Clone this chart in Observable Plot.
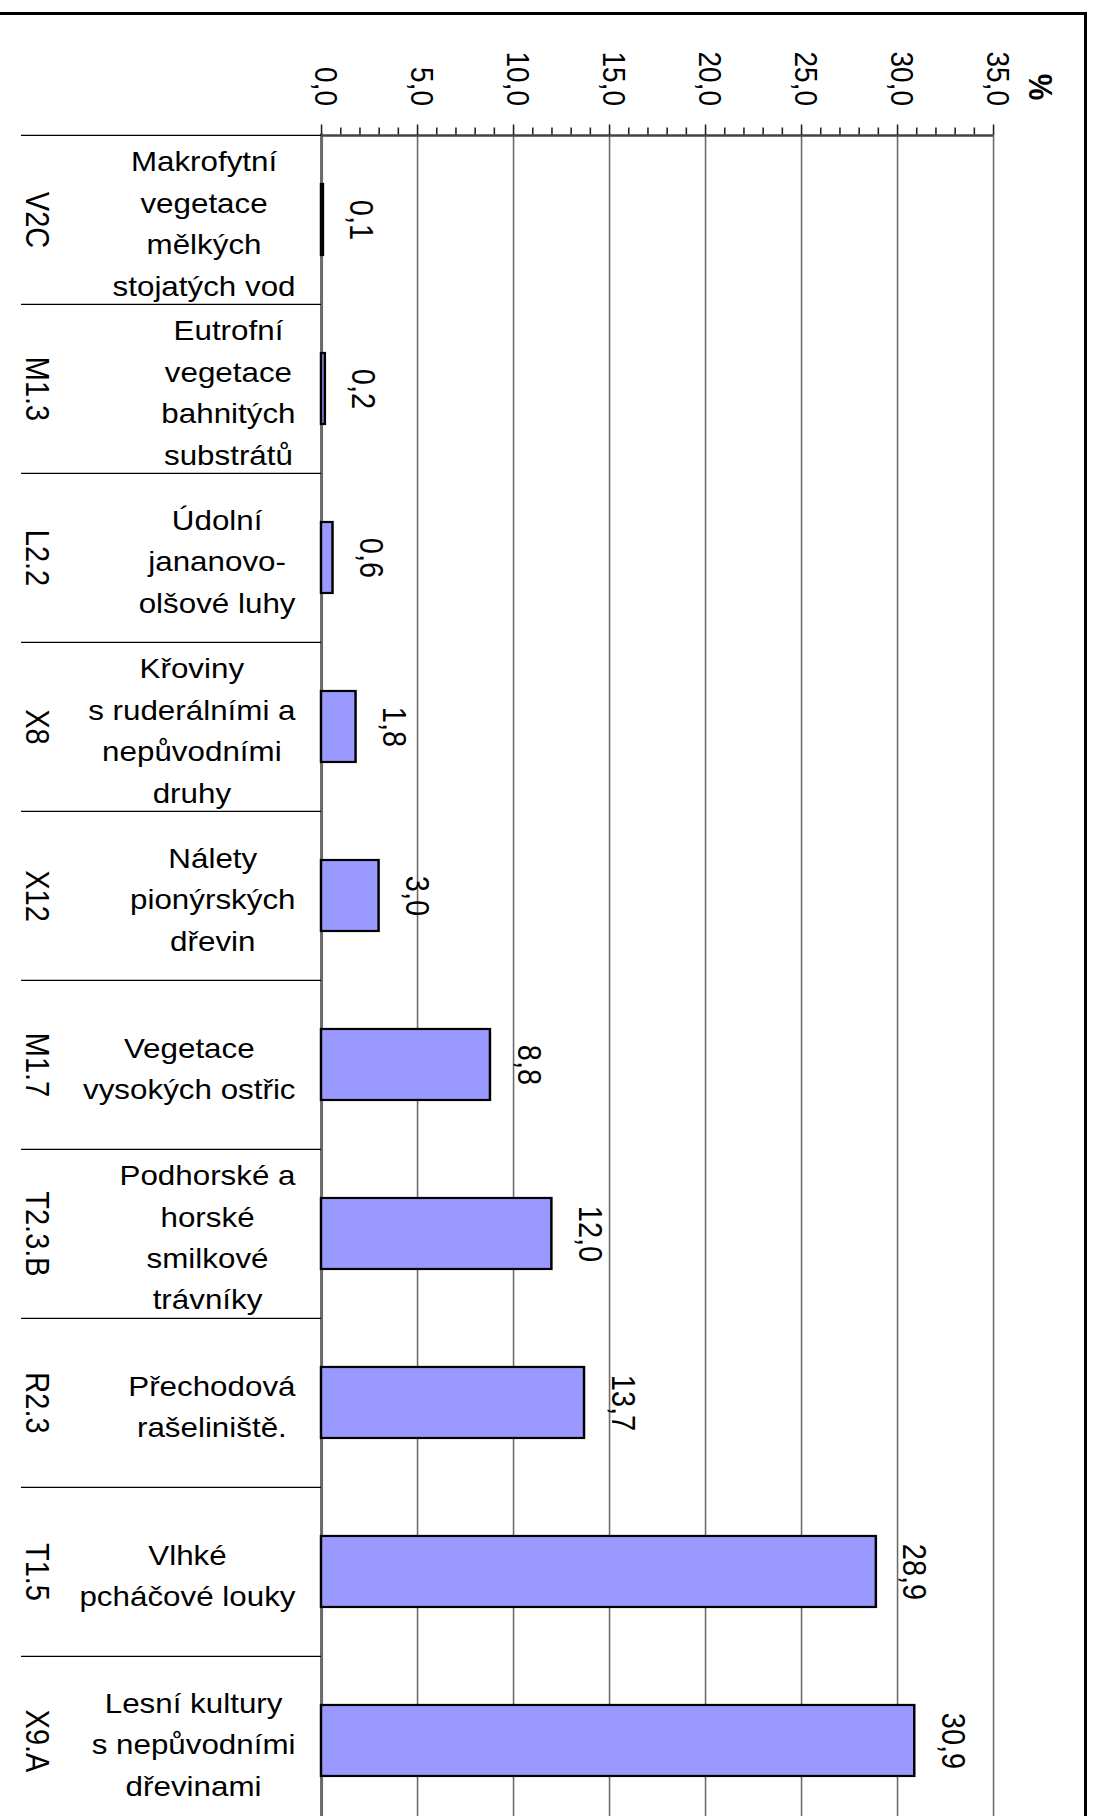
<!DOCTYPE html>
<html>
<head>
<meta charset="utf-8">
<script src="https://cdn.jsdelivr.net/npm/d3@7"></script>
<script src="https://cdn.jsdelivr.net/npm/@observablehq/plot@0.6"></script>
<style>
  html, body { margin: 0; padding: 0; background: #fff; }
  #wrap { position: relative; width: 1097px; height: 1816px; overflow: hidden; background: #fff; }
  #chart { position: absolute; left: 0; top: 0; transform-origin: 0 0; }
  #chart svg { display: block; }
  #border { position: absolute; left: -10px; top: 12px; width: 1097px; height: 2000px;
            border: 3px solid #000; box-sizing: border-box; pointer-events: none; }
</style>
</head>
<body>
<div id="wrap"><div id="chart"></div><div id="border"></div></div>
<script>
// ---- data ----
const codes = ["V2C", "M1.3", "L2.2", "X8", "X12", "M1.7", "T2.3.B", "R2.3", "T1.5", "X9.A"];
const names = [
  "Makrofytní\nvegetace\nmělkých\nstojatých vod",
  "Eutrofní\nvegetace\nbahnitých\nsubstrátů",
  "Údolní\njananovo-\nolšové luhy",
  "Křoviny\ns ruderálními a\nnepůvodními\ndruhy",
  "Nálety\npionýrských\ndřevin",
  "Vegetace\nvysokých ostřic",
  "Podhorské a\nhorské\nsmilkové\ntrávníky",
  "Přechodová\nrašeliniště.",
  "Vlhké\npcháčové louky",
  "Lesní kultury\ns nepůvodními\ndřevinami"
];
const values = [0.1, 0.2, 0.6, 1.8, 3.0, 8.8, 12.0, 13.7, 28.9, 30.9];
const valueLabels = ["0,1", "0,2", "0,6", "1,8", "3,0", "8,8", "12,0", "13,7", "28,9", "30,9"];
const xTicks = [0, 5, 10, 15, 20, 25, 30, 35];
const tickLabels = ["0,0", "5,0", "10,0", "15,0", "20,0", "25,0", "30,0", "35,0"];
const minorTicks = d3.range(0, 36, 1).filter(v => v % 5 !== 0);
const unitLabel = "%";

// ---- layout (the original picture is stretched horizontally by SX) ----
const SX = 1.12;
const W = 1097, H = 1816, WU = W / SX;
const XDOM = [0, 35], XRANGE = [321 / SX, 993 / SX];
const TOP = 133.5, STEP = 169.2;
const FONT = "Liberation Sans, Arial, Helvetica, sans-serif";
const DESC_SIZE = 28, DESC_RIGHT = 295 / SX, SEP_LEFT = 21 / SX;

const xs = d3.scaleLinear().domain(XDOM).range(XRANGE);
const ctx = document.createElement("canvas").getContext("2d");
ctx.font = `${DESC_SIZE}px "Liberation Sans"`;
const blockWidth = s => d3.max(s.split("\n"), l => ctx.measureText(l).width);

const rows = codes.map((c, i) => ({
  code: c, name: names[i], value: values[i], label: valueLabels[i],
  descX: xs.invert(DESC_RIGHT - blockWidth(names[i]) / 2)
}));

const chart = Plot.plot({
  width: WU,
  height: H,
  marginTop: TOP,
  marginBottom: 0,
  marginLeft: XRANGE[0],
  marginRight: WU - XRANGE[1],
  style: { fontFamily: FONT, background: "#fff", color: "#000", overflow: "hidden" },
  x: { domain: XDOM, range: XRANGE },
  y: { type: "band", domain: codes, range: [TOP, TOP + STEP * codes.length], padding: 0, axis: null },
  marks: [
    // vertical gridlines
    Plot.ruleX(xTicks.slice(1), { stroke: "#6a6a6a", strokeWidth: 1.4 }),
    Plot.ruleX([0], { stroke: "#6a6a6a", strokeWidth: 2.7 }),
    // category separators
    Plot.ruleY(codes, { y: d => d, x1: xs.invert(SEP_LEFT), x2: 0, dy: -STEP / 2, stroke: "#000", strokeWidth: 1.3 }),
    // top axis line
    Plot.ruleY([codes[0]], { y: d => d, dy: -STEP / 2, stroke: "#444", strokeWidth: 2.5 }),
    // ticks
    Plot.axisX({ anchor: "top", ticks: xTicks, tickSize: 10, tickFormat: () => "", label: null, stroke: "#222", strokeWidth: 1.4 }),
    Plot.axisX({ anchor: "top", ticks: minorTicks, tickSize: 7, tickFormat: () => "", label: null, stroke: "#222", strokeWidth: 1.4 }),
    // tick labels (rotated)
    Plot.text(xTicks, { x: d => d, text: (d, i) => tickLabels[i], frameAnchor: "top", dy: -28, dx: 3 / SX,
      rotate: 90, textAnchor: "end", lineAnchor: "middle", fontSize: 28, fill: "#000" }),
    Plot.text([unitLabel], { text: d => d, frameAnchor: "top-right", dx: 35 / SX, dy: -47,
      rotate: 90, textAnchor: "middle", lineAnchor: "bottom", fontSize: 30, fontWeight: "bold", fill: "#000" }),
    // bars
    Plot.barX(rows, { x: "value", y: "code", fill: "#9999ff", stroke: "#000", strokeWidth: 2.2,
      insetTop: 49, insetBottom: 49 }),
    // value labels
    Plot.text(rows, { x: "value", y: "code", text: "label", dx: 27 / SX,
      rotate: 90, textAnchor: "middle", lineAnchor: "bottom", fontSize: 29, fill: "#000" }),
    // code labels (rotated)
    Plot.text(rows, { y: "code", text: "code", frameAnchor: "left", dx: (25 - 321) / SX,
      rotate: 90, textAnchor: "middle", lineAnchor: "bottom", fontSize: 29, fill: "#000" }),
    // descriptions
    Plot.text(rows, { x: "descX", y: "code", text: "name", textAnchor: "middle", lineAnchor: "middle",
      lineHeight: 1.482, fontSize: DESC_SIZE, fill: "#000" })
  ]
});
const holder = document.getElementById("chart");
holder.style.transform = `scaleX(${SX})`;
holder.appendChild(chart);
</script>
</body>
</html>
